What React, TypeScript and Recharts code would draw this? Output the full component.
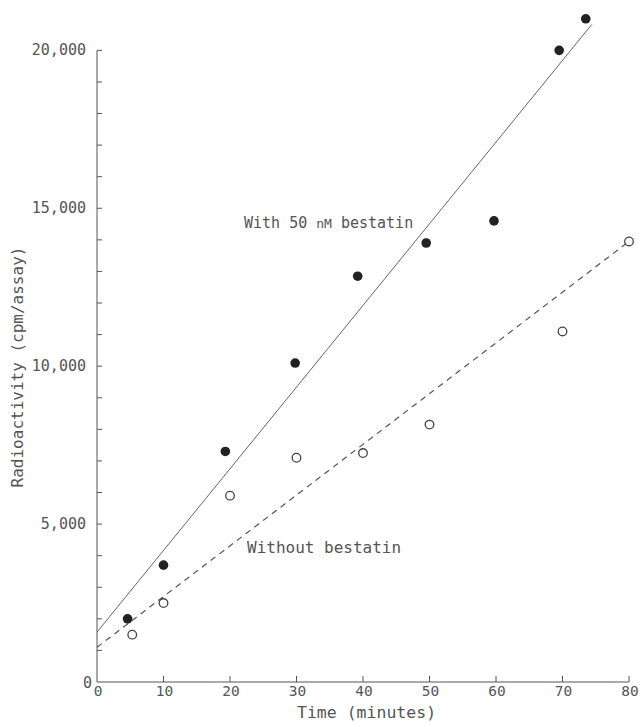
import React from "react";
import {
  ComposedChart,
  Scatter,
  XAxis,
  YAxis,
  ReferenceLine,
} from "recharts";

// measured points, with 50 nM bestatin (filled)
const withTime = [4.6, 10, 19.3, 29.8, 39.2, 49.5, 59.7, 69.5, 73.5];
const withCpm = [2000, 3700, 7300, 10100, 12850, 13900, 14600, 20000, 21000];

// measured points, without bestatin (open)
const withoutTime = [5.3, 10, 20, 30, 40, 50, 70, 80];
const withoutCpm = [1500, 2500, 5900, 7100, 7250, 8150, 11100, 13950];

// fitted lines (end points)
const withFitTime = [0, 74.4];
const withFitCpm = [1580, 20820];
const withoutFitTime = [0, 80];
const withoutFitCpm = [1100, 13950];

const xTicks = [0, 10, 20, 30, 40, 50, 60, 70, 80];
const yTicks = Array.from({ length: 21 }, (_, i) => i * 1000);

const FONT = "'DejaVu Sans Mono', 'Liberation Mono', monospace";
const INK = "#555";

const withData = withTime.map((t, i) => ({ t, cpm: withCpm[i] }));
const withoutData = withoutTime.map((t, i) => ({ t, cpm: withoutCpm[i] }));

const fmt = (v: number) => v.toLocaleString("en-US");

const YTick = (props: any) => {
  const { x, y, payload } = props;
  const v = payload.value as number;
  const major = v % 5000 === 0;
  return (
    <g>
      {v > 0 && <line x1={x} x2={x + 5} y1={y} y2={y} stroke={INK} strokeWidth={1} />}
      {major && (
        <text
          x={v === 0 ? x - 5 : x - 11}
          y={v === 0 ? y + 1 : y}
          textAnchor="end"
          dominantBaseline="central"
          fontFamily={FONT}
          fontSize={15}
          fill={INK}
        >
          {fmt(v)}
        </text>
      )}
    </g>
  );
};

const XTick = (props: any) => {
  const { x, y, payload } = props;
  const v = payload.value as number;
  return (
    <g>
      {v > 0 && <line x1={x} x2={x} y1={y} y2={y - 6} stroke={INK} strokeWidth={1} />}
      <text
        x={x + 1}
        y={y + 14}
        textAnchor="middle"
        fontFamily={FONT}
        fontSize={14.5}
        fill={INK}
      >
        {v}
      </text>
    </g>
  );
};

export default function App() {
  document.body.style.margin = "0";
  return (
    <div style={{ position: "relative", width: 640, height: 727, background: "#fff" }}>
      <ComposedChart
        width={640}
        height={727}
        margin={{ top: 3, right: 11, bottom: 15, left: 37 }}
      >
        <XAxis
          type="number"
          dataKey="t"
          domain={[0, 80]}
          ticks={xTicks}
          interval={0}
          height={30}
          tickSize={0}
          tickMargin={0}
          tickLine={false}
          axisLine={{ stroke: INK, strokeWidth: 1 }}
          tick={(p: any) => <XTick {...p} />}
        />
        <YAxis
          type="number"
          dataKey="cpm"
          domain={[0, 21500]}
          ticks={yTicks}
          interval={0}
          width={60}
          tickSize={0}
          tickMargin={0}
          tickLine={false}
          axisLine={false}
          tick={(p: any) => <YTick {...p} />}
        />
        <ReferenceLine
          segment={[{ x: 0, y: 0 }, { x: 0, y: 20000 }]}
          stroke={INK}
          strokeWidth={1}
          ifOverflow="visible"
        />
        <ReferenceLine
          segment={[
            { x: withFitTime[0], y: withFitCpm[0] },
            { x: withFitTime[1], y: withFitCpm[1] },
          ]}
          stroke="#666"
          strokeWidth={1}
          ifOverflow="visible"
        />
        <ReferenceLine
          segment={[
            { x: withoutFitTime[0], y: withoutFitCpm[0] },
            { x: withoutFitTime[1], y: withoutFitCpm[1] },
          ]}
          stroke="#555"
          strokeWidth={1.2}
          strokeDasharray="6 5"
          ifOverflow="visible"
        />
        <Scatter
          data={withData}
          isAnimationActive={false}
          shape={(p: any) => <circle cx={p.cx} cy={p.cy} r={4.8} fill="#222" />}
        />
        <Scatter
          data={withoutData}
          isAnimationActive={false}
          shape={(p: any) => (
            <circle cx={p.cx} cy={p.cy} r={4.3} fill="#fff" stroke="#444" strokeWidth={1.3} />
          )}
        />
      </ComposedChart>

      <div
        style={{
          position: "absolute",
          left: 244,
          top: 214,
          fontFamily: FONT,
          fontSize: 15,
          color: INK,
          whiteSpace: "nowrap",
        }}
      >
        With 50 <span style={{ fontSize: 13 }}>nM</span> bestatin
      </div>
      <div
        style={{
          position: "absolute",
          left: 247,
          top: 538,
          fontFamily: FONT,
          fontSize: 16,
          color: INK,
          whiteSpace: "nowrap",
        }}
      >
        Without bestatin
      </div>
      <div
        style={{
          position: "absolute",
          left: 297,
          top: 703,
          fontFamily: FONT,
          fontSize: 16.5,
          color: INK,
          whiteSpace: "nowrap",
        }}
      >
        Time (minutes)
      </div>
      <div
        style={{
          position: "absolute",
          left: 17,
          top: 367,
          fontFamily: FONT,
          fontSize: 16,
          color: INK,
          whiteSpace: "nowrap",
          transform: "translate(-50%, -50%) rotate(-90deg)",
        }}
      >
        Radioactivity (cpm/assay)
      </div>
    </div>
  );
}
